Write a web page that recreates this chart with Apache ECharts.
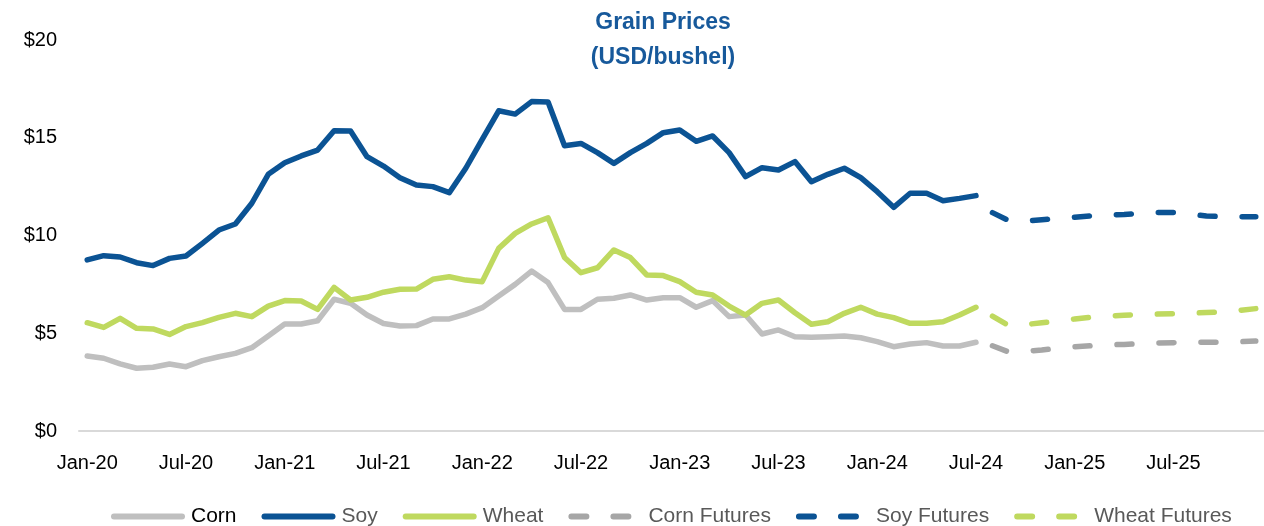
<!DOCTYPE html>
<html>
<head>
<meta charset="utf-8">
<script src="https://cdn.jsdelivr.net/npm/echarts@6/dist/echarts.min.js"></script>
<style>
html,body{margin:0;padding:0;background:#fff;}
#chart{width:1264px;height:526px;}
</style>
</head>
<body>
<div id="chart"></div>
<script>
const monthNames = ['Jan','Feb','Mar','Apr','May','Jun','Jul','Aug','Sep','Oct','Nov','Dec'];
const yearNames = ['20','21','22','23','24','25'];
const categories = yearNames.flatMap(y => monthNames.map(m => m + '-' + y));

// Actual prices Jan-20 .. Jul-24
const corn = [3.84,3.72,3.43,3.21,3.26,3.43,3.29,3.60,3.80,3.97,4.26,4.86,
  5.47,5.47,5.64,6.74,6.53,5.93,5.50,5.37,5.39,5.73,5.73,5.98,
  6.31,6.91,7.50,8.18,7.59,6.22,6.22,6.74,6.79,6.96,6.70,6.82,
  6.82,6.33,6.67,5.85,5.93,4.96,5.17,4.82,4.79,4.82,4.86,4.77,
  4.57,4.31,4.45,4.52,4.35,4.35,4.54];
const soy = [8.75,8.97,8.90,8.61,8.46,8.83,8.95,9.60,10.28,10.59,11.65,13.13,
  13.72,14.07,14.37,15.36,15.35,14.03,13.55,12.96,12.58,12.50,12.19,13.44,
  14.92,16.38,16.21,16.85,16.83,14.59,14.71,14.24,13.69,14.24,14.71,15.26,
  15.40,14.82,15.09,14.24,13.01,13.47,13.35,13.78,12.75,13.13,13.44,12.96,
  12.24,11.44,12.16,12.16,11.78,11.90,12.04];
const wheat = [5.54,5.30,5.76,5.25,5.22,4.94,5.34,5.54,5.81,6.02,5.85,6.39,
  6.67,6.65,6.22,7.35,6.70,6.84,7.10,7.25,7.26,7.76,7.89,7.72,
  7.64,9.34,10.11,10.59,10.91,8.88,8.10,8.35,9.26,8.87,7.98,7.95,
  7.64,7.10,6.96,6.39,5.93,6.53,6.70,6.05,5.46,5.59,6.02,6.33,
  5.98,5.80,5.51,5.51,5.59,5.93,6.33];

// Futures Aug-24 .. Dec-25
const cornFutures = [4.36,4.04,4.08,4.14,4.25,4.31,4.36,4.41,4.43,4.47,4.50,4.52,4.53,4.54,4.54,4.57,4.60];
const soyFutures = [11.17,10.76,10.74,10.81,10.88,10.93,11.00,11.05,11.08,11.13,11.18,11.18,11.10,11.00,10.96,10.96,10.96];
const wheatFutures = [5.88,5.39,5.44,5.54,5.63,5.73,5.82,5.88,5.92,5.96,5.98,6.00,6.03,6.06,6.08,6.17,6.26];

const pad = Array(corn.length).fill(null);
const FONT = '"Liberation Sans", Arial, sans-serif';

const COL = {corn:'#BFBFBF', soy:'#0B5394', wheat:'#BFD95F', cornF:'#A6A6A6'};

function lineSeries(name, data, color, dashed) {
  return {
    name: name, type: 'line', data: data, showSymbol: false, symbol: 'none',
    connectNulls: false, silent: true,
    lineStyle: dashed
      ? {color: color, width: 5.5, type: [15, 27], cap: 'round', join: 'round'}
      : {color: color, width: 5.5, cap: 'round', join: 'round'},
    itemStyle: {color: color}
  };
}

const chart = echarts.init(document.getElementById('chart'), null, {renderer: 'canvas'});
chart.setOption({
  animation: false,
  backgroundColor: '#fff',
  title: {
    text: 'Grain Prices\n(USD/bushel)',
    left: 658, textAlign: 'center', top: 0,
    textStyle: {fontFamily: FONT, fontWeight: 'bold', fontSize: 23, color: '#17599B', lineHeight: 35}
  },
  grid: {left: 79, right: -6, top: 40, bottom: 95, containLabel: false},
  xAxis: {
    type: 'category', data: categories, boundaryGap: true,
    axisLine: {show: true, lineStyle: {color: '#D9D9D9', width: 2}},
    axisTick: {show: false},
    axisLabel: {interval: 5, margin: 22, fontFamily: FONT, fontSize: 20, color: '#000'},
    splitLine: {show: false}
  },
  yAxis: {
    type: 'value', min: 0, max: 20, interval: 5,
    axisLine: {show: false}, axisTick: {show: false}, splitLine: {show: false},
    axisLabel: {margin: 22, fontFamily: FONT, fontSize: 20, color: '#000', formatter: v => '$' + v}
  },
  legend: {
    left: 106, top: 501, itemWidth: 68, itemHeight: 14, itemGap: 25,
    itemStyle: {opacity: 0, borderWidth: 0},
    lineStyle: {width: 6, cap: 'round'},
    textStyle: {fontFamily: FONT, fontSize: 21, color: '#595959', padding: [0,0,0,4]},
    data: [
      {name: 'Corn', textStyle: {color: '#000'}},
      {name: 'Soy'}, {name: 'Wheat'}, {name: 'Corn Futures'}, {name: 'Soy Futures'}, {name: 'Wheat Futures'}
    ]
  },
  series: [
    lineSeries('Corn', corn, COL.corn, false),
    lineSeries('Soy', soy, COL.soy, false),
    lineSeries('Wheat', wheat, COL.wheat, false),
    lineSeries('Corn Futures', pad.concat(cornFutures), COL.cornF, true),
    lineSeries('Soy Futures', pad.concat(soyFutures), COL.soy, true),
    lineSeries('Wheat Futures', pad.concat(wheatFutures), COL.wheat, true)
  ]
});
</script>
</body>
</html>
